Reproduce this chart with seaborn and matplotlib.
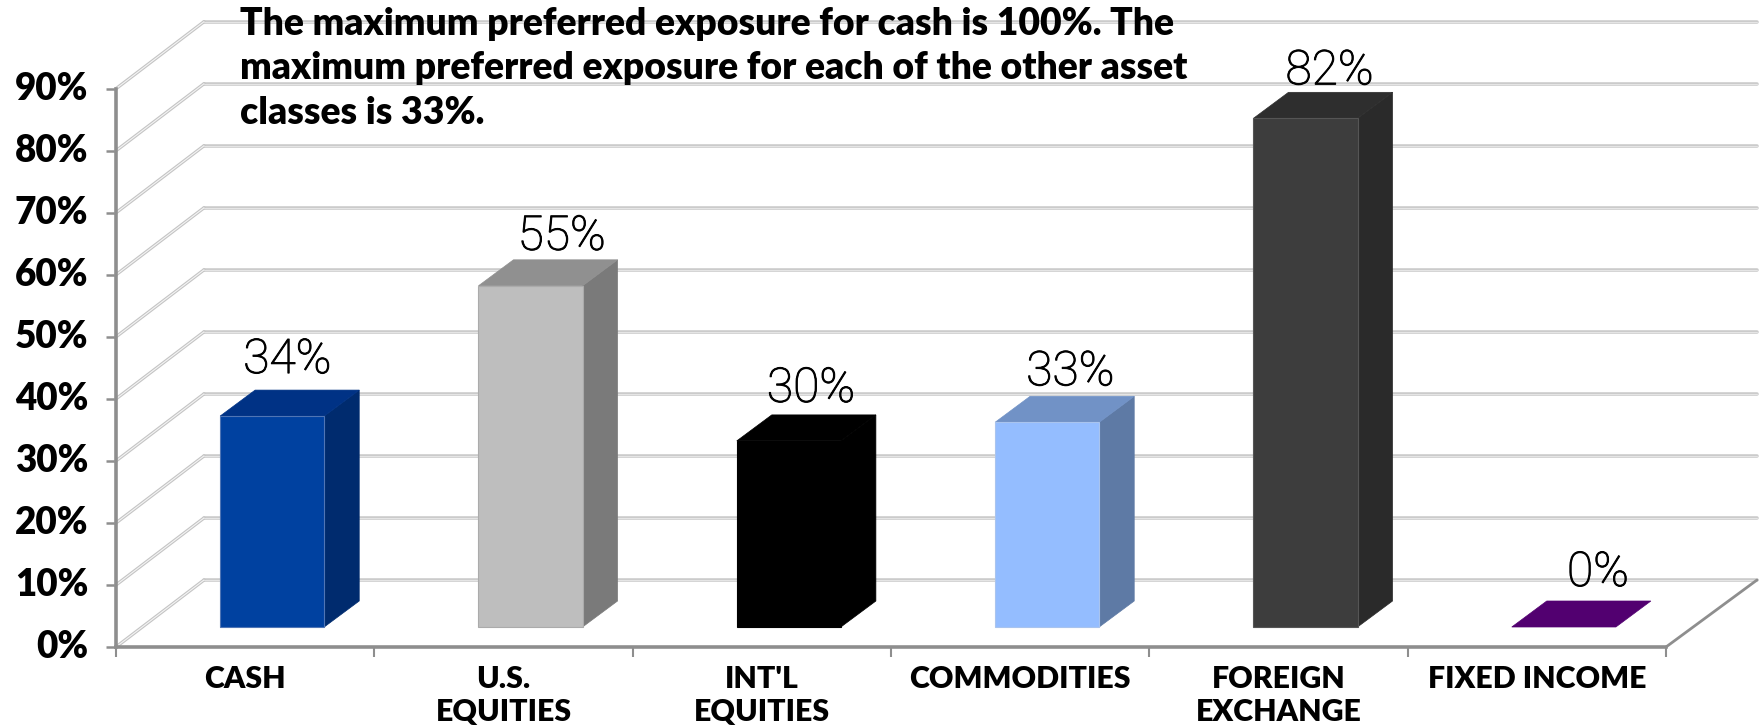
import matplotlib
matplotlib.use("Agg")
import matplotlib.pyplot as plt
import matplotlib.patheffects as pe
import pandas as pd
import seaborn as sns
from matplotlib.patches import Polygon
from matplotlib.transforms import Affine2D

# ---- data ----
categories = ["CASH", "U.S.\nEQUITIES", "INT'L\nEQUITIES", "COMMODITIES", "FOREIGN\nEXCHANGE", "FIXED INCOME"]
exposure = [34, 55, 30, 33, 82, 0]
y_ticks = [0, 10, 20, 30, 40, 50, 60, 70, 80, 90]
note = ("The maximum preferred exposure for cash is 100%. The\n"
        "maximum preferred exposure for each of the other asset\n"
        "classes is 33%.")

# ---- styles ----
front_colors = ["#0041A0", "#BEBEBE", "#000000", "#94BDFF", "#3D3D3D", "#520070"]
side_colors = ["#002B6E", "#7A7A7A", "#000000", "#5E7AA5", "#2A2A2A", "#520070"]
top_colors = ["#003285", "#909090", "#000000", "#7192C6", "#2E2E2E", "#520070"]
front_edges = ["#4F75B5", "#ABABAB", "#000000", "#A9C4EE", "#555555", "none"]
label_nudge_px = [(-2, 7), (14, 0), (5, 3), (6, 1), (7, -2), (17, 5)]

W, H = 1764, 725
AX_L, AX_R, AX_TOP, AX_BOT = 116, 1666, 88.7, 647
WALL_DX, WALL_DY = 88, 67
BAR_DX, BAR_DY = 35, 26
BAR_SHIFT_X, BAR_SHIFT_Y = 27, 20
GRID_END = 1757
AXIS_C = "#8E8E8E"

sns.set_theme(style="white")
plt.rcParams["font.family"] = ["Lato", "DejaVu Sans"]

fig = plt.figure(figsize=(W / 100, H / 100), dpi=100, facecolor="white")
ax = fig.add_axes([AX_L / W, 1 - AX_BOT / H, (AX_R - AX_L) / W, (AX_BOT - AX_TOP) / H])

df = pd.DataFrame({"asset": categories, "exposure": exposure})
sns.barplot(data=df, x="asset", y="exposure", hue="asset", palette=front_colors,
            order=categories, hue_order=categories, saturation=1, width=0.403,
            legend=False, ax=ax, zorder=3)

ax.set_xlim(-0.5, len(categories) - 0.5)
ax.set_ylim(0, 90)
ax.set_xlabel("")
ax.set_ylabel("")
fig.canvas.draw()

px_x = (AX_R - AX_L) / len(categories)   # pixels per category
px_y = (AX_BOT - AX_TOP) / 90            # pixels per percent
shift = ax.transData + Affine2D().translate(BAR_SHIFT_X, BAR_SHIFT_Y)
dx_bar, dy_bar = BAR_DX / px_x, BAR_DY / px_y

# 3D extrusion of each seaborn bar
for i, patch in enumerate(ax.patches[:len(categories)]):
    x0, w, h = patch.get_x(), patch.get_width(), patch.get_height()
    x1 = x0 + w
    patch.set_transform(shift)
    patch.set_clip_on(False)
    patch.set_edgecolor(front_edges[i])
    patch.set_linewidth(0.8)
    if h > 0:
        ax.add_patch(Polygon([(x1, 0), (x1 + dx_bar, dy_bar), (x1 + dx_bar, h + dy_bar), (x1, h)],
                             closed=True, fc=side_colors[i], ec=side_colors[i], lw=0.5,
                             transform=shift, clip_on=False, zorder=2.9))
    ax.add_patch(Polygon([(x0, h), (x1, h), (x1 + dx_bar, h + dy_bar), (x0 + dx_bar, h + dy_bar)],
                         closed=True, fc=top_colors[i], ec=top_colors[i], lw=0.5,
                         transform=shift, clip_on=False, zorder=2.9))
    nx, ny = label_nudge_px[i]
    tr = ax.transData + Affine2D().translate(BAR_SHIFT_X + w * px_x / 2 + nx + 17, BAR_SHIFT_Y + BAR_DY + ny)
    ax.text(x0, h, f"{exposure[i]}%", transform=tr, ha="center", va="bottom",
            fontsize=34.5, fontweight="light", family=["Roboto", "DejaVu Sans"], color="black",
            zorder=6, clip_on=False,
            path_effects=[pe.withStroke(linewidth=0.7, foreground="black")])

# back wall gridlines, wall diagonals
wall = ax.transData + Affine2D().translate(WALL_DX, WALL_DY)
x_end = -0.5 + (GRID_END - WALL_DX - AX_L) / px_x
for v in y_ticks:
    ax.plot([-0.5, x_end], [v, v], transform=wall, color="#CBCBCB", lw=2.6, clip_on=False, zorder=1,
            solid_capstyle="round")
    ax.plot([-0.5, x_end], [v, v], transform=wall, color="#E6E6E6", lw=0.7, clip_on=False, zorder=1.1)
    d_x = [-0.5, -0.5 + WALL_DX / px_x]
    d_y = [v, v + WALL_DY / px_y]
    ax.plot(d_x, d_y, transform=ax.transData, color="#C4C4C4", lw=2.4, clip_on=False, zorder=1)
    ax.plot(d_x, d_y, transform=ax.transData, color="#F4F4F4", lw=0.8, clip_on=False, zorder=1.1)

# floor right edge
ax.plot([5.5, 5.5 + (GRID_END - AX_R) / px_x], [0, WALL_DY / px_y], color=AXIS_C, lw=2.0,
        clip_on=False, zorder=2)

# axes
sns.despine(ax=ax, top=True, right=True)
for s in ("left", "bottom"):
    ax.spines[s].set_color(AXIS_C)
    ax.spines[s].set_linewidth(2.6)
    ax.spines[s].set_zorder(2.5)
ax.set_yticks(y_ticks, [f"{v}%" for v in y_ticks])
ax.set_xticks(range(len(categories)), categories)
ax.set_xticks([i - 0.5 for i in range(len(categories) + 1)], minor=True)
ax.tick_params(axis="y", which="major", length=7.5, width=1.8, color=AXIS_C, left=True,
               pad=12.5, labelsize=26.5, labelcolor="black")
ax.tick_params(axis="x", which="major", length=0, pad=13, labelsize=21.8, labelcolor="black")
ax.tick_params(axis="x", which="minor", length=7, width=1.5, color=AXIS_C, bottom=True)
for t in ax.get_yticklabels() + ax.get_xticklabels():
    t.set_fontweight("heavy")
    t.set_linespacing(1.2)
for t in ax.get_yticklabels():
    t.set_transform(t.get_transform() + Affine2D().translate(0, 3))
ax.patch.set_alpha(0)

fig.text(240 / W, 1 - 7 / H, note, ha="left", va="top", fontsize=26.8, fontweight="heavy",
         color="black", linespacing=1.37, zorder=7)

fig.savefig("out.png", dpi=100, facecolor="white")
